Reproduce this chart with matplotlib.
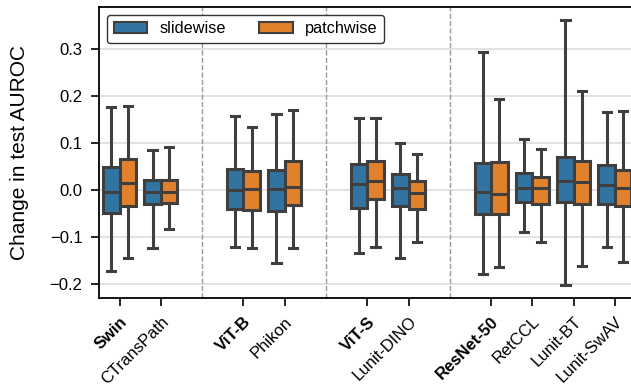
import matplotlib
matplotlib.use("Agg")
import matplotlib.pyplot as plt
from matplotlib.patches import Patch

plt.rcParams['font.family'] = ['Liberation Sans', 'DejaVu Sans']

categories = ["Swin", "CTransPath", "ViT-B", "Phikon", "ViT-S", "Lunit-DINO",
              "ResNet-50", "RetCCL", "Lunit-BT", "Lunit-SwAV"]
bold_labels = ["Swin", "ViT-B", "ViT-S", "ResNet-50"]
cat_positions = [0, 1, 3, 4, 6, 7, 9, 10, 11, 12]
separators = [2, 5, 8]
hues = ["slidewise", "patchwise"]

# box statistics per category: (whislo, q1, med, q3, whishi)
slide_low = [-0.172, -0.123, -0.120, -0.155, -0.133, -0.145, -0.179, -0.088, -0.201, -0.121]
slide_q1 = [-0.049, -0.028, -0.040, -0.043, -0.037, -0.033, -0.050, -0.024, -0.025, -0.028]
slide_med = [-0.003, -0.003, 0.000, 0.003, 0.013, 0.004, -0.004, 0.005, 0.020, 0.011]
slide_q3 = [0.049, 0.022, 0.045, 0.043, 0.056, 0.035, 0.059, 0.036, 0.072, 0.054]
slide_high = [0.177, 0.086, 0.158, 0.162, 0.155, 0.100, 0.295, 0.109, 0.362, 0.167]

patch_low = [-0.144, -0.082, -0.123, -0.123, -0.121, -0.109, -0.163, -0.109, -0.161, -0.152]
patch_q1 = [-0.034, -0.026, -0.042, -0.032, -0.018, -0.039, -0.051, -0.028, -0.028, -0.034]
patch_med = [0.015, -0.004, 0.003, 0.008, 0.021, -0.006, -0.008, 0.004, 0.017, 0.004]
patch_q3 = [0.066, 0.023, 0.042, 0.063, 0.062, 0.021, 0.060, 0.029, 0.063, 0.043]
patch_high = [0.179, 0.093, 0.135, 0.172, 0.153, 0.077, 0.194, 0.087, 0.212, 0.169]

colors = ["#3274a1", "#e1812c"]
line_color = "#3f3f3f"

fig = plt.figure(figsize=(6.31, 3.86), dpi=100)
W, H = 631, 386
x0, x1 = 98.9, 635.6
ytop, ybot = 6.7, 297.7
ax = fig.add_axes([x0 / W, (H - ybot) / H, (x1 - x0) / W, (ybot - ytop) / H])

series = [
    (slide_low, slide_q1, slide_med, slide_q3, slide_high),
    (patch_low, patch_q1, patch_med, patch_q3, patch_high),
]
width = 0.4
for h, (lo, q1, med, q3, hi) in enumerate(series):
    stats = []
    for i in range(len(categories)):
        stats.append(dict(whislo=lo[i], q1=q1[i], med=med[i], q3=q3[i], whishi=hi[i], fliers=[]))
    offs = (-0.5 + h) * width
    pos = [p + offs for p in cat_positions]
    ax.bxp(stats, positions=pos, widths=width, patch_artist=True, showfliers=False,
           boxprops=dict(facecolor=colors[h], edgecolor=line_color, linewidth=2.2),
           medianprops=dict(color=line_color, linewidth=2.2),
           whiskerprops=dict(color=line_color, linewidth=2.2),
           capprops=dict(color=line_color, linewidth=2.2),
           capwidths=width * 0.5, manage_ticks=False, zorder=3)

for s in separators:
    ax.axvline(s, color="#999999", linestyle="--", linewidth=1.0, zorder=1)

ax.set_xlim(-0.5, 12.5)
ax.set_ylim(-0.2285, 0.391)
ax.set_yticks([-0.2, -0.1, 0.0, 0.1, 0.2, 0.3])
ax.set_yticklabels(["\u22120.2", "\u22120.1", "0.0", "0.1", "0.2", "0.3"])
ax.yaxis.grid(True, color="#dddddd", linewidth=1.2, zorder=0)
ax.set_axisbelow(True)
ax.set_xticks(cat_positions)
ax.set_xticklabels(categories, rotation=45, ha="right", rotation_mode="anchor")
for lab in ax.get_xticklabels():
    if lab.get_text() in bold_labels:
        lab.set_fontweight("bold")
ax.tick_params(axis="both", labelsize=12, length=5.8, width=1.2, pad=6, colors="black")
for sp in ax.spines.values():
    sp.set_linewidth(1.3)
ax.set_ylabel("Change in test AUROC", fontsize=15, labelpad=14.5)

handles = [Patch(facecolor=colors[i], edgecolor=line_color, linewidth=1.5, label=hues[i]) for i in range(2)]
leg = ax.legend(handles=handles, ncol=2, loc="upper left", fontsize=11.7,
                frameon=True, edgecolor="#333333", fancybox=True, framealpha=1,
                handlelength=2.06, handleheight=0.7, handletextpad=0.75,
                columnspacing=2.06, borderaxespad=0.5)
leg.get_frame().set_linewidth(1.0)

fig.savefig("out.png", dpi=100)
